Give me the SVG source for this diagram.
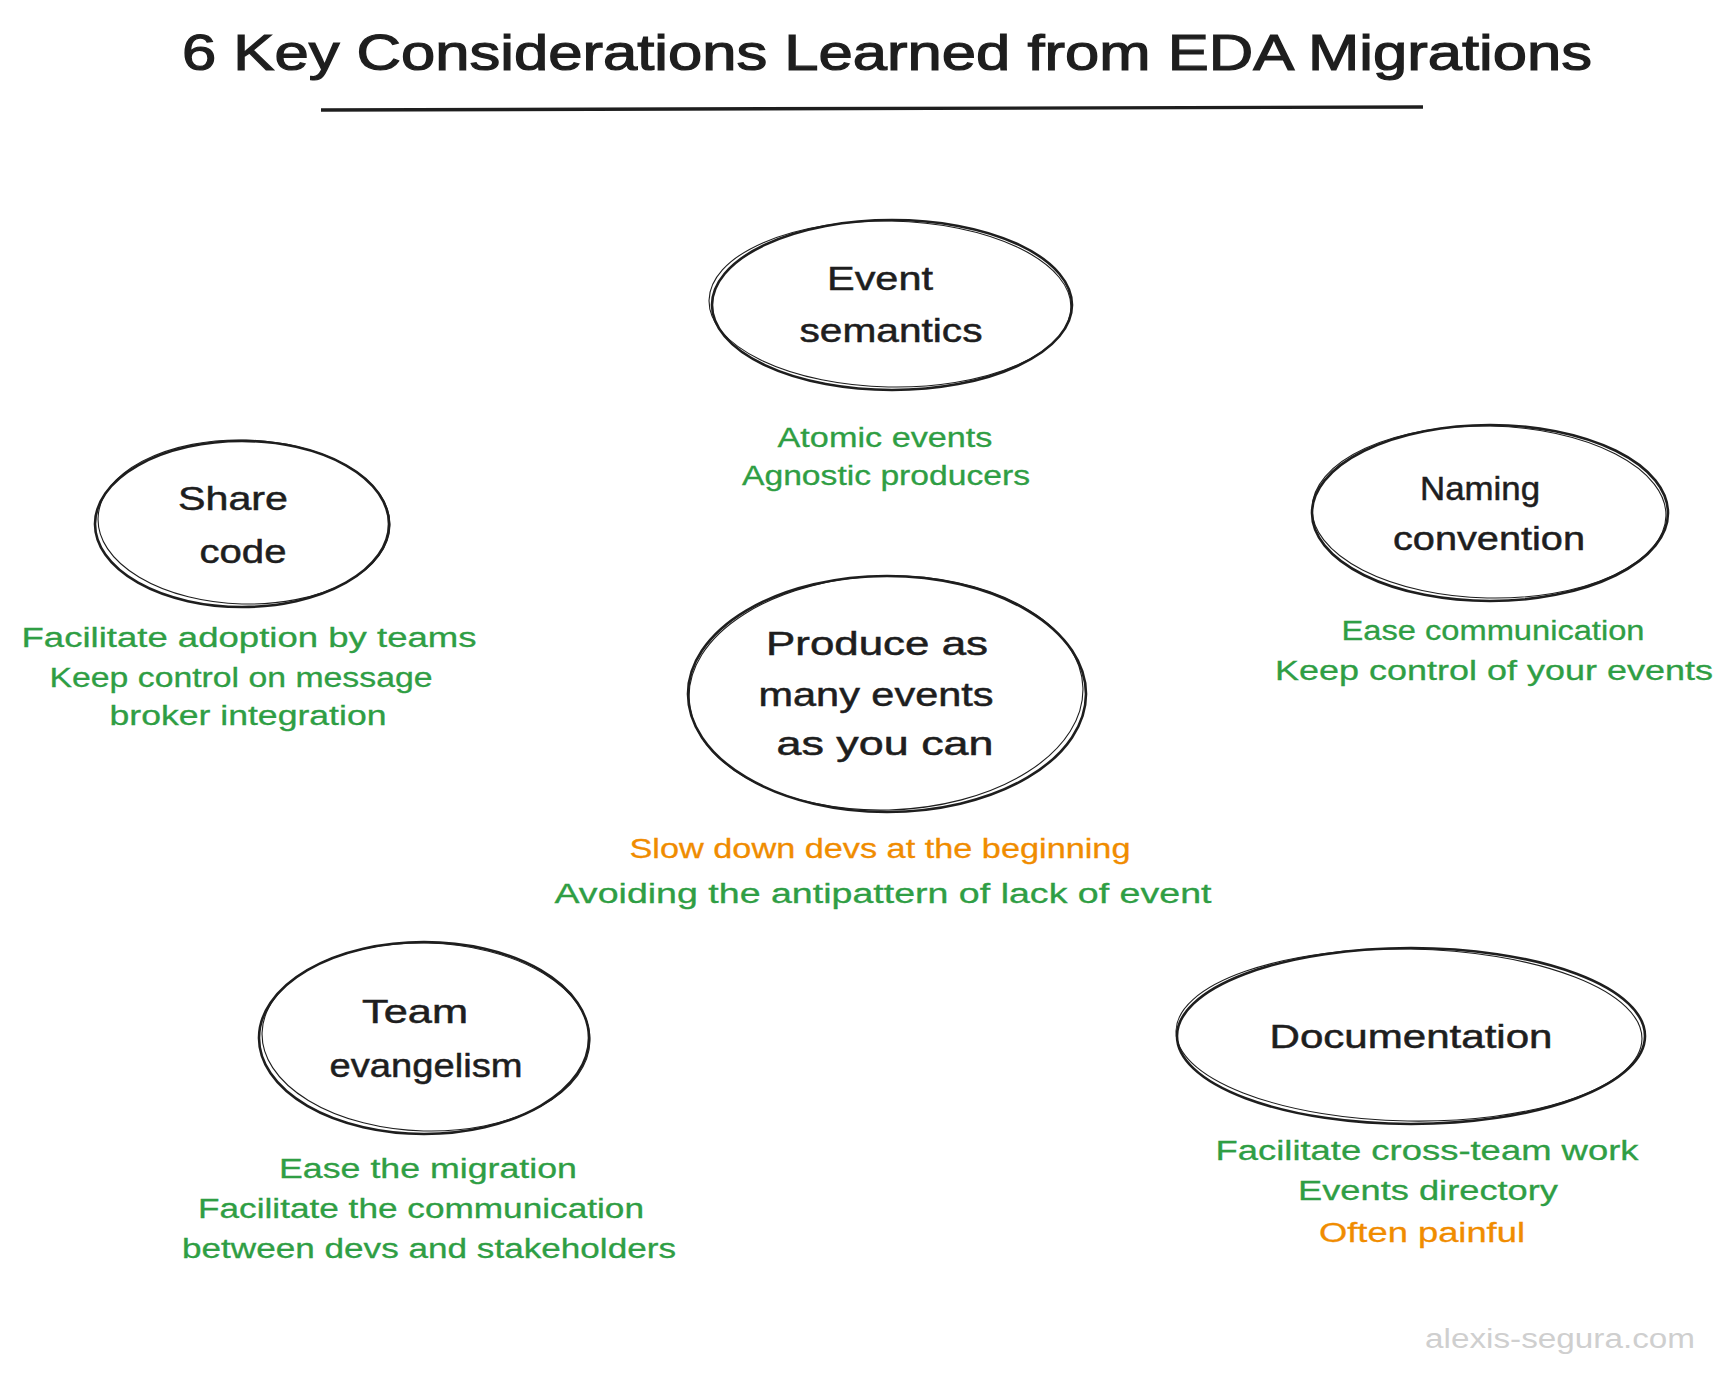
<svg xmlns="http://www.w3.org/2000/svg" width="1734" height="1379" viewBox="0 0 1734 1379">
<style>
text{font-family:"Liberation Sans","Noto Sans",sans-serif;text-anchor:middle}
.title{font-size:50px;fill:#1e1e1e;stroke:#1e1e1e;stroke-width:1.2}
.lbl{font-size:33px;fill:#1e1e1e;stroke:#1e1e1e;stroke-width:0.5}
.g{font-size:27px;fill:#2f9e44;stroke:#2f9e44;stroke-width:0.3}
.o{font-size:27px;fill:#f08c00;stroke:#f08c00;stroke-width:0.3}
.wm{font-size:27px;fill:#cfcfcf}
.e1{fill:none;stroke:#1e1e1e;stroke-width:2.6}
.e2{fill:none;stroke:#1e1e1e;stroke-width:1.1}
</style>
<rect width="1734" height="1379" fill="#ffffff"/>
<g id="title">
<text class="title" x="887" y="70" textLength="1410" lengthAdjust="spacingAndGlyphs">6 Key Considerations Learned from EDA Migrations</text>
<path d="M321 110 L1423 107" stroke="#1e1e1e" stroke-width="3.4" fill="none"/>
</g>
<g id="node-event-semantics">
<ellipse class="e1" cx="892" cy="305" rx="180" ry="85"/>
<ellipse class="e2" cx="890" cy="304" rx="181" ry="83" transform="rotate(1.2 890 304)"/>
<text class="lbl" x="880" y="290" textLength="106" lengthAdjust="spacingAndGlyphs">Event</text>
<text class="lbl" x="891" y="342" textLength="183" lengthAdjust="spacingAndGlyphs">semantics</text>
<text class="g" x="885" y="447" textLength="215" lengthAdjust="spacingAndGlyphs">Atomic events</text>
<text class="g" x="886" y="485" textLength="288" lengthAdjust="spacingAndGlyphs">Agnostic producers</text>
</g>
<g id="node-share-code">
<ellipse class="e1" cx="242" cy="524" rx="147" ry="83"/>
<ellipse class="e2" cx="244" cy="522" rx="146" ry="82" transform="rotate(1.5 244 522)"/>
<text class="lbl" x="233" y="510" textLength="110" lengthAdjust="spacingAndGlyphs">Share</text>
<text class="lbl" x="243" y="563" textLength="87" lengthAdjust="spacingAndGlyphs">code</text>
<text class="g" x="249" y="647" textLength="455" lengthAdjust="spacingAndGlyphs">Facilitate adoption by teams</text>
<text class="g" x="241" y="687" textLength="383" lengthAdjust="spacingAndGlyphs">Keep control on message</text>
<text class="g" x="248" y="725" textLength="277" lengthAdjust="spacingAndGlyphs">broker integration</text>
</g>
<g id="node-naming-convention">
<ellipse class="e1" cx="1490" cy="513" rx="178" ry="88"/>
<ellipse class="e2" cx="1489" cy="512" rx="177" ry="86" transform="rotate(1.3 1489 512)"/>
<text class="lbl" x="1480" y="500" textLength="120" lengthAdjust="spacingAndGlyphs">Naming</text>
<text class="lbl" x="1489" y="550" textLength="192" lengthAdjust="spacingAndGlyphs">convention</text>
<text class="g" x="1493" y="640" textLength="303" lengthAdjust="spacingAndGlyphs">Ease communication</text>
<text class="g" x="1494" y="680" textLength="438" lengthAdjust="spacingAndGlyphs">Keep control of your events</text>
</g>
<g id="node-produce-events">
<ellipse class="e1" cx="887" cy="694" rx="199" ry="118"/>
<ellipse class="e2" cx="886" cy="693" rx="197" ry="117" transform="rotate(-1.5 886 693)"/>
<text class="lbl" x="877" y="655" textLength="222" lengthAdjust="spacingAndGlyphs">Produce as</text>
<text class="lbl" x="876" y="706" textLength="235" lengthAdjust="spacingAndGlyphs">many events</text>
<text class="lbl" x="885" y="755" textLength="217" lengthAdjust="spacingAndGlyphs">as you can</text>
<text class="o" x="880" y="858" textLength="501" lengthAdjust="spacingAndGlyphs">Slow down devs at the beginning</text>
<text class="g" x="883" y="903" textLength="657" lengthAdjust="spacingAndGlyphs">Avoiding the antipattern of lack of event</text>
</g>
<g id="node-team-evangelism">
<ellipse class="e1" cx="424" cy="1038" rx="165" ry="96"/>
<ellipse class="e2" cx="426" cy="1037" rx="164" ry="94" transform="rotate(1.5 426 1037)"/>
<text class="lbl" x="415" y="1023" textLength="106" lengthAdjust="spacingAndGlyphs">Team</text>
<text class="lbl" x="426" y="1077" textLength="193" lengthAdjust="spacingAndGlyphs">evangelism</text>
<text class="g" x="428" y="1178" textLength="298" lengthAdjust="spacingAndGlyphs">Ease the migration</text>
<text class="g" x="421" y="1218" textLength="446" lengthAdjust="spacingAndGlyphs">Facilitate the communication</text>
<text class="g" x="429" y="1258" textLength="494" lengthAdjust="spacingAndGlyphs">between devs and stakeholders</text>
</g>
<g id="node-documentation">
<ellipse class="e1" cx="1411" cy="1036" rx="234" ry="88"/>
<ellipse class="e2" cx="1409" cy="1035" rx="233" ry="86" transform="rotate(1 1409 1035)"/>
<text class="lbl" x="1411" y="1048" textLength="283" lengthAdjust="spacingAndGlyphs">Documentation</text>
<text class="g" x="1427" y="1160" textLength="423" lengthAdjust="spacingAndGlyphs">Facilitate cross-team work</text>
<text class="g" x="1428" y="1200" textLength="260" lengthAdjust="spacingAndGlyphs">Events directory</text>
<text class="o" x="1422" y="1242" textLength="206" lengthAdjust="spacingAndGlyphs">Often painful</text>
</g>
<g id="watermark">
<text class="wm" x="1560" y="1348" textLength="270" lengthAdjust="spacingAndGlyphs">alexis-segura.com</text>
</g>
</svg>
